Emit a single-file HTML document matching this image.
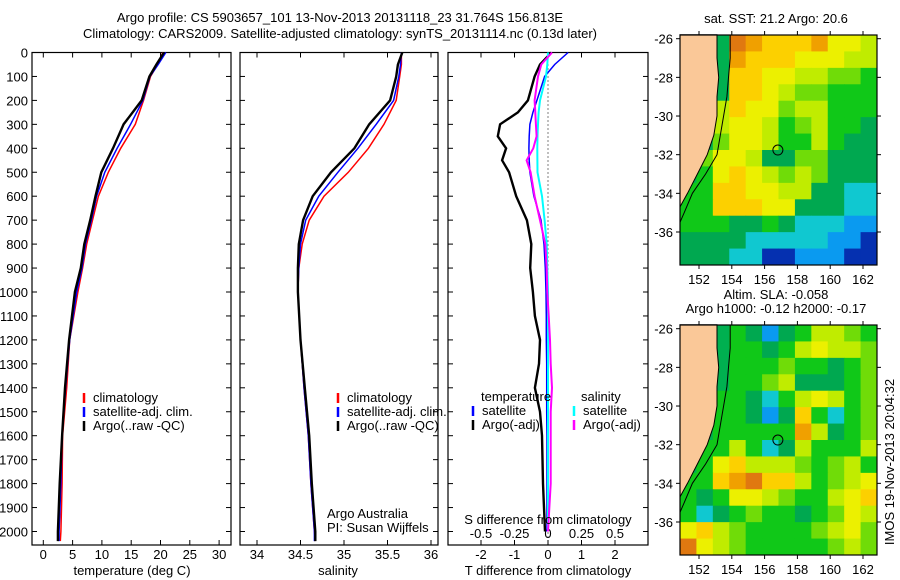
<!DOCTYPE html>
<html><head><meta charset="utf-8"><style>
body{margin:0;background:#fff}
svg{display:block;font-family:"Liberation Sans",sans-serif}
text{font-size:13px;fill:#000}
</style></head><body>
<svg id="fig" width="900" height="580" viewBox="0 0 900 580" xmlns="http://www.w3.org/2000/svg">
<text x="340" y="22" text-anchor="middle">Argo profile: CS 5903657_101 13-Nov-2013 20131118_23 31.764S 156.813E</text>
<text x="340" y="38" text-anchor="middle">Climatology: CARS2009. Satellite-adjusted climatology: synTS_20131114.nc (0.13d later)</text>
<g id="p1"></g>
<g id="p2"></g>
<g id="p3"></g>
<g id="m1"></g>
<g id="m2"></g>
<text x="0" y="0" transform="translate(894,462) rotate(-90)" text-anchor="middle">IMOS 19-Nov-2013 20:04:32</text>
</svg>
<script>
const depths=[0,50,100,200,300,400,500,600,700,800,900,1000,1200,1400,1600,1800,2000,2040];
const tClim=[20.4,19.5,18.3,17.1,15.7,13.2,11.1,9.4,8.4,7.4,6.7,5.9,4.5,4.0,3.3,3.2,3.0,2.9];
const tSat=[20.9,19.6,18.2,17.0,14.9,12.6,10.5,9.1,8.2,7.2,6.6,5.7,4.5,3.8,3.2,3.0,2.7,2.7];
const tArgo=[20.6,19.3,18.1,16.8,13.7,11.9,9.9,8.9,8.0,7.0,6.4,5.4,4.4,3.7,3.2,2.8,2.5,2.5];
const sClim=[35.66,35.66,35.64,35.6,35.46,35.28,35.05,34.77,34.6,34.52,34.48,34.47,34.5,34.54,34.59,34.62,34.66,34.67];
const sSat=[35.66,35.65,35.63,35.57,35.37,35.16,34.93,34.71,34.56,34.5,34.48,34.47,34.5,34.54,34.59,34.62,34.66,34.66];
const sArgo=[35.67,35.62,35.6,35.53,35.29,35.12,34.85,34.64,34.53,34.48,34.47,34.47,34.5,34.55,34.6,34.63,34.67,34.67];
const dDepths=[0,50,100,200,250,300,350,400,450,500,600,700,800,900,1000,1100,1200,1300,1400,1500,1600,1800,2000];
const dTArgo=[0.1,-0.24,-0.4,-0.6,-0.9,-1.43,-1.5,-1.25,-1.37,-1.16,-0.95,-0.63,-0.5,-0.53,-0.45,-0.39,-0.24,-0.27,-0.39,-0.24,-0.18,-0.15,-0.09];
const dTSat=[0.6,0.2,-0.1,-0.33,-0.45,-0.54,-0.56,-0.57,-0.56,-0.54,-0.42,-0.21,-0.12,-0.08,-0.06,-0.05,-0.05,-0.04,-0.04,-0.04,-0.03,-0.03,-0.03];
const dSSat=[0,-0.005,-0.015,-0.06,-0.07,-0.075,-0.078,-0.08,-0.079,-0.078,-0.045,-0.025,-0.01,-0.005,0,0,0,0,0,0,0,0,0];
const dSArgo=[0.03,-0.05,-0.075,-0.1,-0.095,-0.09,-0.085,-0.11,-0.16,-0.13,-0.1,-0.06,-0.02,-0.01,-0.005,0.005,0.015,0.02,0.03,0.02,0.02,0.02,0.0];
const depthTicks=[0,100,200,300,400,500,600,700,800,900,1000,1100,1200,1300,1400,1500,1600,1700,1800,1900,2000];
const tTicks=[0,5,10,15,20,25,30];
const sTicks=[34,34.5,35,35.5,36];
const dTTicks=[-2,-1,0,1,2];
const dSTicks=[-0.5,-0.25,0,0.25,0.5];
const lonTicks=[152,154,156,158,160,162];
const latTicks=[-26,-28,-30,-32,-34,-36];
const sstGrid=["000ba999a887","000a99988877","000998877665","000998766555","007988677555","007887567554","006887557544","068874466444","058987676444","559988774433","559998844433","555445433322","444433333221","444331122211"];
const slaGrid=["000542457765","000554578776","000555655456","000556744456","005543578756","005542495356","0055555a7456","055753475557","058977765675","559ab9975678","545887655789","534565545687","897655556786","b87655555676"];
const coast=[[153.1,-25.8],[153.1,-27],[153.2,-28],[153.1,-29],[153.1,-30],[152.9,-31],[152.5,-32],[151.9,-33],[151.3,-34],[150.84,-34.7]];
const shelf=[[153.9,-25.8],[153.9,-27],[153.8,-28],[153.7,-29],[153.5,-30],[153.3,-31],[153.1,-32],[152.4,-33],[151.6,-34],[151.1,-35],[150.84,-35.5]];
const argoPos=[156.81,-31.76];

const NS="http://www.w3.org/2000/svg";
function mk(parent,tag,attrs){const e=document.createElementNS(NS,tag);for(const k in attrs)e.setAttribute(k,attrs[k]);parent.appendChild(e);return e;}
const yD=d=>52.5+d*0.2395;
const Y0=52.5,Y1=545;
function axesBox(g,x0,x1){const r=mk(g,'rect',{x:x0,y:Y0,width:x1-x0,height:Y1-Y0,fill:'none',stroke:'#000','stroke-width':1.2});
}
function line(g,xs,ds,xf,color,w,name){const pts=xs.map((v,i)=>xf(v).toFixed(1)+','+yD(ds[i]).toFixed(1)).join(' ');
const p=mk(g,'polyline',{points:pts,fill:'none',stroke:color,'stroke-width':w,'stroke-linejoin':'miter'});
}
function xticks(g,ticks,xf,labelY,name){ticks.forEach(t=>{const x=xf(t);mk(g,'line',{x1:x,x2:x,y1:Y1,y2:Y1-5,stroke:'#000'});mk(g,'line',{x1:x,x2:x,y1:Y0,y2:Y0+5,stroke:'#000'});
const tx=mk(g,'text',{x:x,y:labelY,'text-anchor':'middle'});tx.textContent=String(t);
});}
function legend(g,x,y,items){items.forEach((it,i)=>{mk(g,'line',{x1:x,x2:x,y1:y+i*14-9,y2:y+i*14+1,stroke:it[0],'stroke-width':2.5});
const t=mk(g,'text',{x:x+9,y:y+i*14});t.textContent=it[1];
});}

// panel 1
const g1=document.getElementById('p1');const xT=v=>43.3+v*5.86;
axesBox(g1,32,231);
depthTicks.forEach(d=>{const y=yD(d);mk(g1,'line',{x1:32,x2:37,y1:y,y2:y,stroke:'#000'});mk(g1,'line',{x1:226,x2:231,y1:y,y2:y,stroke:'#000'});
const t=mk(g1,'text',{x:28,y:y+5,'text-anchor':'end'});t.textContent=d;});
xticks(g1,tTicks,xT,559,'temperature-tick-label');
line(g1,tClim,depths,xT,'#f00',1.5,'temp-climatology-line');
line(g1,tSat,depths,xT,'#00f',1.5,'temp-satellite-line');
line(g1,tArgo,depths,xT,'#000',2.4,'temp-argo-line');
legend(g1,84,402,[['#f00','climatology'],['#00f','satellite-adj. clim.'],['#000','Argo(..raw -QC)']]);
let t=mk(g1,'text',{x:132,y:575,'text-anchor':'middle'});t.textContent='temperature (deg C)';

// panel 2
const g2=document.getElementById('p2');const xS=v=>257+(v-34)*87;
axesBox(g2,240,438);
depthTicks.forEach(d=>{const y=yD(d);mk(g2,'line',{x1:240,x2:245,y1:y,y2:y,stroke:'#000'});mk(g2,'line',{x1:433,x2:438,y1:y,y2:y,stroke:'#000'});});
xticks(g2,sTicks,xS,559,'salinity-tick-label');
line(g2,sClim,depths,xS,'#f00',1.5,'sal-climatology-line');
line(g2,sSat,depths,xS,'#00f',1.5,'sal-satellite-line');
line(g2,sArgo,depths,xS,'#000',2.4,'sal-argo-line');
legend(g2,338,402,[['#f00','climatology'],['#00f','satellite-adj. clim.'],['#000','Argo(..raw -QC)']]);
t=mk(g2,'text',{x:327,y:518});t.textContent='Argo Australia';
t=mk(g2,'text',{x:327,y:532});t.textContent='PI: Susan Wijffels';
t=mk(g2,'text',{x:338,y:575,'text-anchor':'middle'});t.textContent='salinity';

// panel 3
const g3=document.getElementById('p3');const xDT=v=>548+v*33.5;const xDS=v=>548+v*134;
axesBox(g3,448,648);
depthTicks.forEach(d=>{const y=yD(d);mk(g3,'line',{x1:448,x2:453,y1:y,y2:y,stroke:'#000'});mk(g3,'line',{x1:643,x2:648,y1:y,y2:y,stroke:'#000'});});
xticks(g3,dTTicks,xDT,559,'t-diff-tick-label');
dSTicks.forEach(v=>{const tx=mk(g3,'text',{x:xDS(v),y:538,'text-anchor':'middle'});tx.textContent=String(v);});
mk(g3,'line',{x1:548,x2:548,y1:Y0,y2:Y1,stroke:'#000','stroke-dasharray':'1,3'});
line(g3,dTArgo,dDepths,xDT,'#000',2.4,'t-diff-argo-line');
line(g3,dTSat,dDepths,xDT,'#00f',1.5,'t-diff-satellite-line');
line(g3,dSSat,dDepths,xDS,'#0ff',2,'s-diff-satellite-line');
line(g3,dSArgo,dDepths,xDS,'#f0f',2,'s-diff-argo-line');
t=mk(g3,'text',{x:481,y:401});t.textContent='temperature';
t=mk(g3,'text',{x:581,y:401});t.textContent='salinity';
legend(g3,473,415,[['#00f','satellite'],['#000','Argo(-adj)']]);
legend(g3,574,415,[['#0ff','satellite'],['#f0f','Argo(-adj)']]);
t=mk(g3,'text',{x:548,y:524,'text-anchor':'middle'});t.textContent='S difference from climatology';
t=mk(g3,'text',{x:548,y:575,'text-anchor':'middle'});t.textContent='T difference from climatology';

// maps
const pal={'0':'#00b050','1':'#0530b0','2':'#0a9af0','3':'#10c8d0','4':'#00a850','5':'#10c818','6':'#70dc08','7':'#c0ec00','8':'#ecf000','9':'#fcd000','a':'#f0a000','b':'#e07810','c':'#c04010'};
function drawMap(id,top,grid,titles){const g=document.getElementById(id);const L=680,R=877,T=top,B=top+230;
const lonX=v=>699+(v-152)*16.4;const latY=v=>T+3.7+(-26-v)*19.33;
const nr=grid.length,nc=grid[0].length,cw=(R-L)/nc,ch=(B-T)/nr;
grid.forEach((row,r)=>{for(let c=0;c<nc;c++){const cell=mk(g,'rect',{x:(L+c*cw).toFixed(2),y:(T+r*ch).toFixed(2),width:(cw+0.5).toFixed(2),height:(ch+0.5).toFixed(2),fill:pal[row[c]]});
}});
const land=[[150.84,-25.8]].concat(coast).map(p=>lonX(p[0]).toFixed(1)+','+latY(p[1]).toFixed(1)).join(' ');
const lp=mk(g,'polygon',{points:land,fill:'#fac898',stroke:'#000','stroke-width':1});
const sp=mk(g,'polyline',{points:shelf.map(p=>lonX(p[0]).toFixed(1)+','+latY(p[1]).toFixed(1)).join(' '),fill:'none',stroke:'#000','stroke-width':1});
const ci=mk(g,'circle',{cx:lonX(argoPos[0]),cy:latY(argoPos[1]),r:5,fill:'none',stroke:'#000','stroke-width':1});
const fr=mk(g,'rect',{x:L,y:T,width:R-L,height:B-T,fill:'none',stroke:'#000','stroke-width':1.2});
lonTicks.forEach(v=>{const x=lonX(v);mk(g,'line',{x1:x,x2:x,y1:T,y2:T-4,stroke:'#000'});mk(g,'line',{x1:x,x2:x,y1:B,y2:B+4,stroke:'#000'});
const tx=mk(g,'text',{x:x,y:B+19,'text-anchor':'middle'});tx.textContent=v;});
latTicks.forEach(v=>{const y=latY(v);mk(g,'line',{x1:L,x2:L-4,y1:y,y2:y,stroke:'#000'});mk(g,'line',{x1:R,x2:R+4,y1:y,y2:y,stroke:'#000'});
const tx=mk(g,'text',{x:673,y:y+5,'text-anchor':'end'});tx.textContent=v;});
titles.forEach((s,i)=>{const tx=mk(g,'text',{x:776,y:titles.length===1?T-12:T-26+i*14,'text-anchor':'middle'});tx.textContent=s;});}
drawMap('m1',35,sstGrid,['sat. SST: 21.2 Argo: 20.6']);
drawMap('m2',325,slaGrid,['Altim. SLA: -0.058','Argo h1000: -0.12 h2000: -0.17']);
</script>
</body></html>
